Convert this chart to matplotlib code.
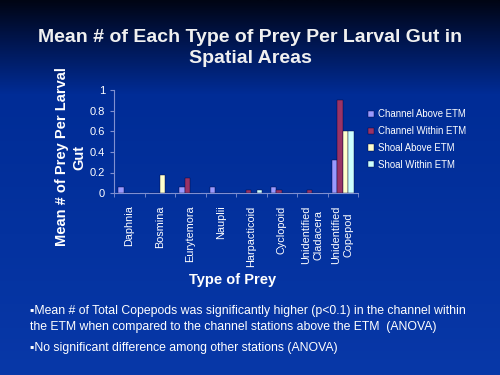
import numpy as np
import matplotlib.pyplot as plt
from matplotlib.colors import LinearSegmentedColormap

plt.rcParams['font.family'] = ['Liberation Sans', 'DejaVu Sans']

categories = ['Daphnia', 'Bosmina', 'Eurytemora', 'Nauplii', 'Harpacticoid',
              'Cyclopoid', 'Unidentified\nCladacera', 'Unidentified\nCopepod']
series = ['Channel Above ETM', 'Channel Within ETM', 'Shoal Above ETM', 'Shoal Within ETM']
channel_above = [0.06, 0.0, 0.06, 0.06, 0.0, 0.06, 0.0, 0.32]
channel_within = [0.0, 0.0, 0.15, 0.0, 0.03, 0.03, 0.03, 0.90]
shoal_above = [0.0, 0.18, 0.0, 0.0, 0.0, 0.0, 0.0, 0.60]
shoal_within = [0.0, 0.0, 0.0, 0.0, 0.03, 0.0, 0.0, 0.60]
colors = ['#9999FF', '#993366', '#FFFFCC', '#CCFFFF']

fig = plt.figure(figsize=(5, 3.75), dpi=100)

# background gradient
bg = fig.add_axes([0, 0, 1, 1], zorder=-1)
cmap = LinearSegmentedColormap.from_list('bg', [(0, '#000514'), (0.1, '#00144a'),
                                               (0.25, '#002c96'), (1, '#0838a8')])
grad = np.linspace(0, 1, 256).reshape(-1, 1)
bg.imshow(grad, aspect='auto', cmap=cmap, extent=[0, 1, 0, 1], origin='upper')
bg.axis('off')

fig.text(0.5, 0.872, 'Mean # of Each Type of Prey Per Larval Gut in\nSpatial Areas',
         ha='center', va='center', color='#f0f0f0', fontsize=14,
         fontweight='bold', linespacing=1.38)

ax = fig.add_axes([0.228, 0.485, 0.488, 0.275])
ax.set_facecolor('none')
x = np.arange(len(categories))
w = 0.18
for i, (vals, c, lab) in enumerate(zip([channel_above, channel_within, shoal_above, shoal_within],
                                       colors, series)):
    ax.bar(x + (i - 1.5) * w, vals, w, color=c, label=lab,
           edgecolor='#000033', linewidth=0.3)

ax.set_xlim(-0.5, len(categories) - 0.5)
ax.set_ylim(0, 1)
ax.set_yticks([0, 0.2, 0.4, 0.6, 0.8, 1])
ax.set_yticklabels(['0', '0.2', '0.4', '0.6', '0.8', '1'])
ax.set_xticks(x)
ax.set_xticklabels(categories, rotation=90, color='white', fontsize=7.8,
                   linespacing=1.3)
ax.set_xticks(np.arange(len(categories) + 1) - 0.5, minor=True)
ax.tick_params(axis='x', which='major', length=0, pad=9)
ax.tick_params(axis='x', which='minor', length=3, color='#8090d0')
ax.tick_params(axis='y', colors='#8090d0', labelcolor='white', labelsize=8, length=3)
for s in ['top', 'right']:
    ax.spines[s].set_visible(False)
for s in ['left', 'bottom']:
    ax.spines[s].set_color('#8090d0')
    ax.spines[s].set_linewidth(0.8)

ax.set_ylabel('Mean # of Prey Per Larval\nGut', color='white', fontsize=10.5,
              fontweight='bold', linespacing=1.25)
ax.yaxis.set_label_coords(-0.115, 0.35)
fig.text(0.466, 0.253, 'Type of Prey', ha='center', va='center', color='white',
         fontsize=10.5, fontweight='bold')

leg = ax.legend(loc='upper left', bbox_to_anchor=(1.015, 0.88), frameon=False,
                fontsize=6.9, labelcolor='white', handlelength=0.6, handleheight=0.6,
                handletextpad=0.4, labelspacing=0.72, borderaxespad=0.3)

fig.text(0.06, 0.149, '\u25aaMean # of Total Copepods was significantly higher (p<0.1) in the channel within\n'
         'the ETM when compared to the channel stations above the ETM  (ANOVA)',
         ha='left', va='center', color='white', fontsize=8.8, linespacing=1.4)
fig.text(0.06, 0.072, '\u25aaNo significant difference among other stations (ANOVA)',
         ha='left', va='center', color='white', fontsize=8.8)

fig.savefig('out.png', dpi=100)
